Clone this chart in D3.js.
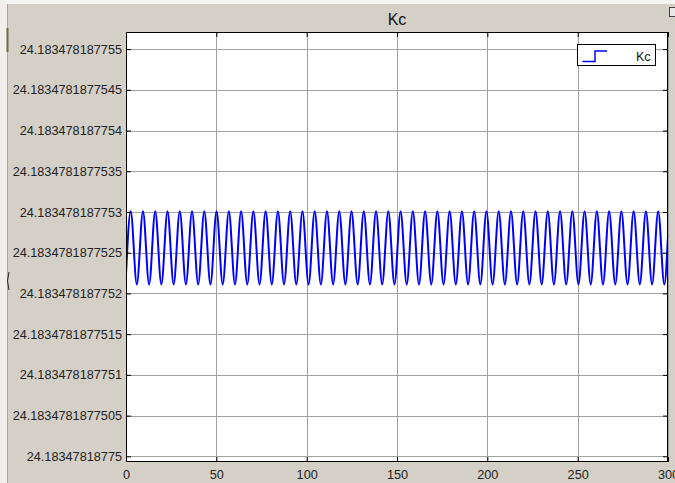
<!DOCTYPE html>
<html>
<head>
<meta charset="utf-8">
<script src="https://cdn.jsdelivr.net/npm/d3@7"></script>
<style>
    html, body { margin: 0; padding: 0; background: #d4d0c8; overflow: hidden; }
    #chart { width: 675px; height: 483px; }
    text { font-family: "Liberation Sans", Arial, sans-serif; }
</style>
</head>
<body>
<div id="chart"></div>
<script>
// ---- data ----
// Kc values are stored as offsets above KC_BASE, in units of 1e-13
const KC_BASE = 24.18347818775;

const xTicks = [0, 50, 100, 150, 200, 250, 300];

const yTickLabels = [
    '24.18347818775', '24.1834781877505', '24.183478187751', '24.1834781877515',
    '24.183478187752', '24.1834781877525', '24.183478187753', '24.1834781877535',
    '24.183478187754', '24.1834781877545', '24.183478187755'
];

// time of every turning point of the Kc trace (start, peak, trough, ..., end)
const kcTime = [
    0, 2.60, 5.99, 9.39, 12.79, 16.18, 19.58, 22.97, 26.37, 29.76, 33.16,
    36.55, 39.95, 43.34, 46.74, 50.13, 53.53, 56.92, 60.32, 63.71, 67.11,
    70.50, 73.90, 77.29, 80.69, 84.08, 87.48, 90.87, 94.27, 97.66, 101.06,
    104.45, 107.85, 111.24, 114.64, 118.03, 121.43, 124.82, 128.22, 131.61, 135.01,
    138.40, 141.80, 145.19, 148.59, 151.98, 155.38, 158.77, 162.17, 165.56, 168.96,
    172.35, 175.75, 179.14, 182.54, 185.93, 189.33, 192.72, 196.12, 199.51, 202.91,
    206.30, 209.70, 213.09, 216.49, 219.88, 223.28, 226.67, 230.07, 233.46, 236.86,
    240.25, 243.65, 247.04, 250.44, 253.83, 257.23, 260.62, 264.02, 267.41, 270.81,
    274.20, 277.60, 280.99, 284.39, 287.78, 291.18, 294.57, 297.97, 300
];

const kcOffset = [
    22.3, 30.1, 21.1, 30.1, 21.1, 30.1, 21.1, 30.1, 21.1, 30.1, 21.1,
    30.1, 21.1, 30.1, 21.1, 30.1, 21.1, 30.1, 21.1, 30.1, 21.1,
    30.1, 21.1, 30.1, 21.1, 30.1, 21.1, 30.1, 21.1, 30.1, 21.1,
    30.1, 21.1, 30.1, 21.1, 30.1, 21.1, 30.1, 21.1, 30.1, 21.1,
    30.1, 21.1, 30.1, 21.1, 30.1, 21.1, 30.1, 21.1, 30.1, 21.1,
    30.1, 21.1, 30.1, 21.1, 30.1, 21.1, 30.1, 21.1, 30.1, 21.1,
    30.1, 21.1, 30.1, 21.1, 30.1, 21.1, 30.1, 21.1, 30.1, 21.1,
    30.1, 21.1, 30.1, 21.1, 30.1, 21.1, 30.1, 21.1, 30.1, 21.1,
    30.1, 21.1, 30.1, 21.1, 30.1, 21.1, 30.1, 21.1, 27.1
];

class ScopeChart {
    constructor(containerId, options = {}) {
        this.container = d3.select(`#${containerId}`);
        this.config = {
            width: 675,
            height: 483,
            plot: { left: 126, top: 32, right: 668, bottom: 462 },
            xDomain: [0, 300],
            yDomain: [-0.7, 52.1],   // offsets, 1e-13 units
            title: 'Kc',
            lineColor: '#0000ff',
            gridColor: '#a0a0a0',
            tickSize: 5,
            ...options
        };
    }

    render() {
        const c = this.config;
        const p = c.plot;

        this.container.selectAll('*').remove();
        const svg = this.container.append('svg')
            .attr('width', c.width)
            .attr('height', c.height);

        // window chrome bits around the figure
        svg.append('rect').attr('width', c.width).attr('height', c.height).attr('fill', '#d4d0c8');
        svg.append('rect').attr('width', c.width).attr('height', 4).attr('fill', '#f4f4f2');
        svg.append('rect').attr('width', 7).attr('height', c.height).attr('fill', '#f0efeb');
        svg.append('line')
            .attr('x1', 7.5).attr('x2', 7.5).attr('y1', 4).attr('y2', c.height)
            .attr('stroke', '#a9a79f');
        svg.append('line')
            .attr('x1', 7.5).attr('x2', 7.5).attr('y1', 28).attr('y2', 52)
            .attr('stroke', '#6d6a3c').attr('stroke-width', 2);
        svg.append('path')
            .attr('d', 'M9,272 Q6,281 9,290')
            .attr('fill', 'none').attr('stroke', '#222');
        svg.append('rect')
            .attr('x', 669.5).attr('y', 7.5).attr('width', 6).attr('height', 9)
            .attr('fill', '#e8e8e8').attr('stroke', '#444');

        const x = d3.scaleLinear().domain(c.xDomain).range([p.left, p.right]);
        const y = d3.scaleLinear().domain(c.yDomain).range([p.bottom, p.top]);
        const yTickVals = yTickLabels.map(l => Math.round((+l - KC_BASE) * 1e13));

        // plot area
        svg.append('rect')
            .attr('x', p.left).attr('y', p.top)
            .attr('width', p.right - p.left).attr('height', p.bottom - p.top)
            .attr('fill', '#ffffff');

        // grid
        const grid = svg.append('g').attr('shape-rendering', 'crispEdges');
        grid.selectAll('.vgrid').data(xTicks).enter().append('line')
            .attr('x1', d => Math.round(x(d)) + 0.5).attr('x2', d => Math.round(x(d)) + 0.5)
            .attr('y1', p.top).attr('y2', p.bottom)
            .attr('stroke', c.gridColor);
        grid.selectAll('.hgrid').data(yTickVals).enter().append('line')
            .attr('y1', d => Math.round(y(d)) + 0.5).attr('y2', d => Math.round(y(d)) + 0.5)
            .attr('x1', p.left).attr('x2', p.right)
            .attr('stroke', c.gridColor);

        // Kc trace
        const line = d3.line()
            .x((d, i) => x(kcTime[i]))
            .y(d => y(d))
            .curve(d3.curveMonotoneX);

        svg.append('defs').append('clipPath').attr('id', 'plotClip')
            .append('rect')
            .attr('x', p.left).attr('y', p.top)
            .attr('width', p.right - p.left).attr('height', p.bottom - p.top);

        svg.append('path')
            .datum(kcOffset)
            .attr('clip-path', 'url(#plotClip)')
            .attr('fill', 'none')
            .attr('stroke', c.lineColor)
            .attr('stroke-width', 2)
            .attr('d', line);

        // axes (ticks point inwards, like the scope)
        const styleAxis = g => {
            g.select('.domain').remove();
            g.selectAll('.tick line').attr('stroke', '#000');
            g.selectAll('.tick text')
                .attr('fill', '#222')
                .style('font-family', '"Liberation Sans", Arial, sans-serif');
        };

        svg.append('g')
            .attr('transform', `translate(${p.left},0)`)
            .call(d3.axisLeft(y).tickValues(yTickVals)
                .tickFormat((d, i) => yTickLabels[i])
                .tickSize(-c.tickSize).tickPadding(4))
            .call(styleAxis)
            .call(g => g.selectAll('.tick text').style('font-size', '12.7px').attr('x', -4));

        svg.append('g')
            .attr('transform', `translate(${p.right},0)`)
            .call(d3.axisRight(y).tickValues(yTickVals).tickFormat('').tickSize(-c.tickSize))
            .call(styleAxis);

        svg.append('g')
            .attr('transform', `translate(0,${p.bottom})`)
            .call(d3.axisBottom(x).tickValues(xTicks).tickFormat(d3.format('d'))
                .tickSize(-c.tickSize).tickPadding(8))
            .call(styleAxis)
            .call(g => g.selectAll('.tick text').style('font-size', '12.7px'));

        svg.append('g')
            .attr('transform', `translate(0,${p.top})`)
            .call(d3.axisTop(x).tickValues(xTicks).tickFormat('').tickSize(-c.tickSize))
            .call(styleAxis);

        // axes box
        svg.append('rect')
            .attr('x', p.left + 0.5).attr('y', p.top + 0.5)
            .attr('width', p.right - p.left - 1).attr('height', p.bottom - p.top - 1)
            .attr('fill', 'none').attr('stroke', '#000');

        // title
        svg.append('text')
            .attr('x', (p.left + p.right) / 2)
            .attr('y', 25)
            .attr('text-anchor', 'middle')
            .style('font-size', '16px')
            .attr('fill', '#111')
            .text(c.title);

        // legend
        const legend = svg.append('g').attr('transform', 'translate(577.5,44.5)');
        legend.append('rect')
            .attr('width', 78).attr('height', 21)
            .attr('fill', '#fff').attr('stroke', '#000');
        legend.append('path')
            .attr('d', 'M5,17 H17.5 V6.5 H29.5')
            .attr('fill', 'none').attr('stroke', c.lineColor).attr('stroke-width', 1.5);
        legend.append('text')
            .attr('x', 73).attr('y', 16)
            .attr('text-anchor', 'end')
            .style('font-size', '12.5px')
            .attr('fill', '#111')
            .text(c.title);

        return this;
    }
}

new ScopeChart('chart').render();
</script>
</body>
</html>
